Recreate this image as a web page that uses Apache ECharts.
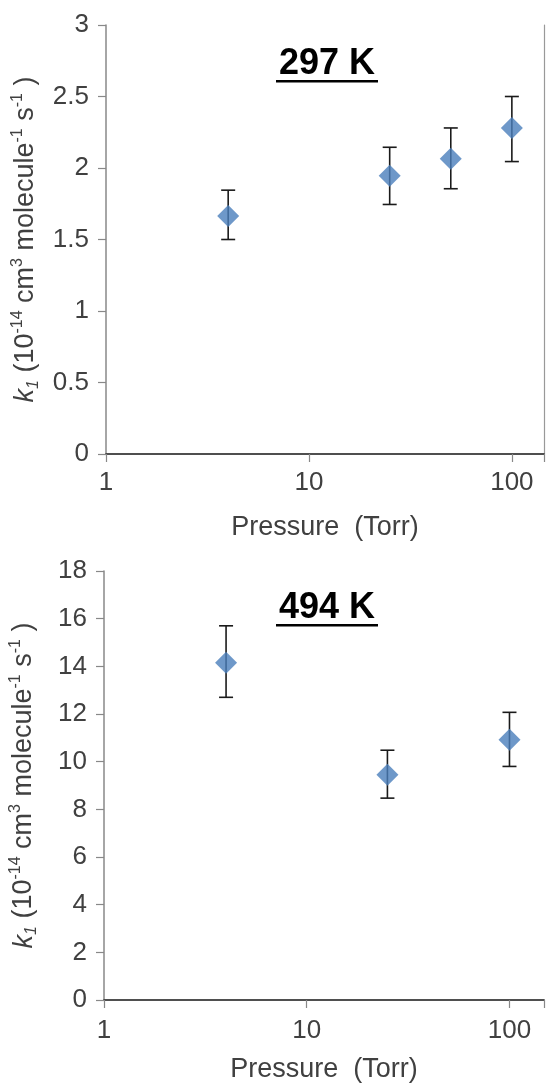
<!DOCTYPE html>
<html><head><meta charset="utf-8">
<script src="https://cdn.jsdelivr.net/npm/echarts@6/dist/echarts.min.js"></script>
<style>html,body{margin:0;padding:0;background:#fff}#c{width:547px;height:1084px}</style>
</head><body><div id="c"></div>
<script>
// ---- data ----
const pressure297 = [4, 25, 50, 100];
const k297 = [1.665, 1.945, 2.065, 2.28];
const k297Low = [1.50, 1.745, 1.855, 2.045];
const k297High = [1.845, 2.145, 2.28, 2.50];

const pressure494 = [4, 25, 100];
const k494 = [14.15, 9.45, 10.92];
const k494Low = [12.70, 8.47, 9.80];
const k494High = [15.70, 10.48, 12.07];

const xTickLabels = [1, 10, 100];
const panelTitles = ['297 K', '494 K'];
const xName = 'Pressure  (Torr)';

const FONT = '"Liberation Sans", Arial, sans-serif';
const LABEL = '#404040';
const AXIS = '#888888';
const BLUE = '#4a7ebb';

const yName = '{i|k}{sub|1}{n| (10}{sup|-14}{n| cm}{sup|3}{n| molecule}{sup|-1}{n| s}{sup|-1}{n| )}';
const yRich = {
  n: {fontSize: 27, fontFamily: FONT, color: LABEL, lineHeight: 32, verticalAlign: 'middle'},
  i: {fontSize: 27, fontFamily: FONT, color: LABEL, fontStyle: 'italic', lineHeight: 32, verticalAlign: 'middle'},
  sup: {fontSize: 16, fontFamily: FONT, color: LABEL, lineHeight: 16, verticalAlign: 'top'},
  sub: {fontSize: 16, fontFamily: FONT, color: LABEL, fontStyle: 'italic', lineHeight: 16, verticalAlign: 'bottom'}
};

function zip3(x, lo, hi) { return x.map((v, i) => [v, lo[i], hi[i]]); }
function zip2(x, y) { return x.map((v, i) => [v, y[i]]); }

function renderErr(params, api) {
  const x = api.value(0), lo = api.value(1), hi = api.value(2);
  const a = api.coord([x, lo]), b = api.coord([x, hi]);
  const w = 7;
  const st = {stroke: '#1a1a1a', lineWidth: 1.6};
  return {type: 'group', children: [
    {type: 'line', shape: {x1: a[0], y1: a[1], x2: b[0], y2: b[1]}, style: st},
    {type: 'line', shape: {x1: a[0] - w, y1: a[1], x2: a[0] + w, y2: a[1]}, style: st},
    {type: 'line', shape: {x1: b[0] - w, y1: b[1], x2: b[0] + w, y2: b[1]}, style: st}
  ]};
}

function xAxisMain(idx, max, labelMargin, nameGap) {
  return {
    type: 'log', gridIndex: idx, min: 1, max: max, logBase: 10,
    axisLine: {show: true, lineStyle: {color: AXIS, width: 1.5}},
    axisTick: {show: true, length: 8, lineStyle: {color: AXIS, width: 1.2}},
    splitLine: {show: false},
    axisLabel: {
      margin: labelMargin, fontSize: 26, fontFamily: FONT, color: LABEL,
      formatter: v => (xTickLabels.some(t => Math.abs(t - v) < 1e-6) ? String(v) : '')
    },
    name: xName, nameLocation: 'middle', nameGap: nameGap,
    nameTextStyle: {fontSize: 27, fontFamily: FONT, color: LABEL}
  };
}
function xAxisTop(idx, max) {
  return {
    type: 'log', gridIndex: idx, min: 1, max: max, position: 'top',
    axisLine: {show: true, lineStyle: {color: '#333', width: 1.6}},
    axisTick: {show: false}, axisLabel: {show: false}, splitLine: {show: false}
  };
}
function yAxisMain(idx, max, interval) {
  return {
    type: 'value', gridIndex: idx, min: 0, max: max, interval: interval,
    axisLine: {show: true, lineStyle: {color: AXIS, width: 1.5}},
    axisTick: {show: true, length: 8, lineStyle: {color: AXIS, width: 1.2}},
    splitLine: {show: false},
    axisLabel: {margin: 17, fontSize: 26, fontFamily: FONT, color: LABEL},
    name: yName, nameLocation: 'middle', nameRotate: 90, nameGap: 64,
    nameTextStyle: {rich: yRich}
  };
}
function yAxisRight(idx, max, interval, show) {
  return {
    type: 'value', gridIndex: idx, min: 0, max: max, interval: interval, position: 'right',
    axisLine: {show: show, lineStyle: {color: '#999', width: 1.2}},
    axisTick: {show: false}, axisLabel: {show: false}, splitLine: {show: false}
  };
}

const option = {
  backgroundColor: '#ffffff',
  animation: false,
  grid: [
    {left: 106, top: 25, width: 438, height: 429},
    {left: 101, top: 571, width: 448, height: 429}
  ],
  xAxis: [xAxisMain(0, 144, 16, 60), xAxisMain(1, 148, 18, 56), xAxisTop(0, 144), xAxisTop(1, 148)],
  yAxis: [yAxisMain(0, 3, 0.5), yAxisMain(1, 18, 2), yAxisRight(0, 3, 0.5, true), yAxisRight(1, 18, 2, false)],
  series: [
    {type: 'custom', xAxisIndex: 0, yAxisIndex: 0, renderItem: renderErr,
     encode: {x: 0, y: [1, 2]}, data: zip3(pressure297, k297Low, k297High), z: 2},
    {type: 'scatter', xAxisIndex: 0, yAxisIndex: 0, symbol: 'diamond', symbolSize: [22, 22],
     itemStyle: {color: BLUE}, data: zip2(pressure297, k297), z: 3},
    {type: 'custom', xAxisIndex: 1, yAxisIndex: 1, renderItem: renderErr,
     encode: {x: 0, y: [1, 2]}, data: zip3(pressure494, k494Low, k494High), z: 2},
    {type: 'scatter', xAxisIndex: 1, yAxisIndex: 1, symbol: 'diamond', symbolSize: [22, 22],
     itemStyle: {color: BLUE}, data: zip2(pressure494, k494), z: 3}
  ],
  graphic: [
    {type: 'text', x: 327, y: 64, style: {text: panelTitles[0], font: 'bold 36px ' + FONT, fill: '#000', align: 'center', verticalAlign: 'middle'}},
    {type: 'rect', shape: {x: 276, y: 80, width: 102, height: 2.5}, style: {fill: '#000'}},
    {type: 'text', x: 327, y: 608, style: {text: panelTitles[1], font: 'bold 36px ' + FONT, fill: '#000', align: 'center', verticalAlign: 'middle'}},
    {type: 'rect', shape: {x: 276, y: 624, width: 102, height: 2.5}, style: {fill: '#000'}}
  ]
};
const chart = echarts.init(document.getElementById('c'), null, {renderer: 'canvas'});
chart.setOption(option);
</script></body></html>
